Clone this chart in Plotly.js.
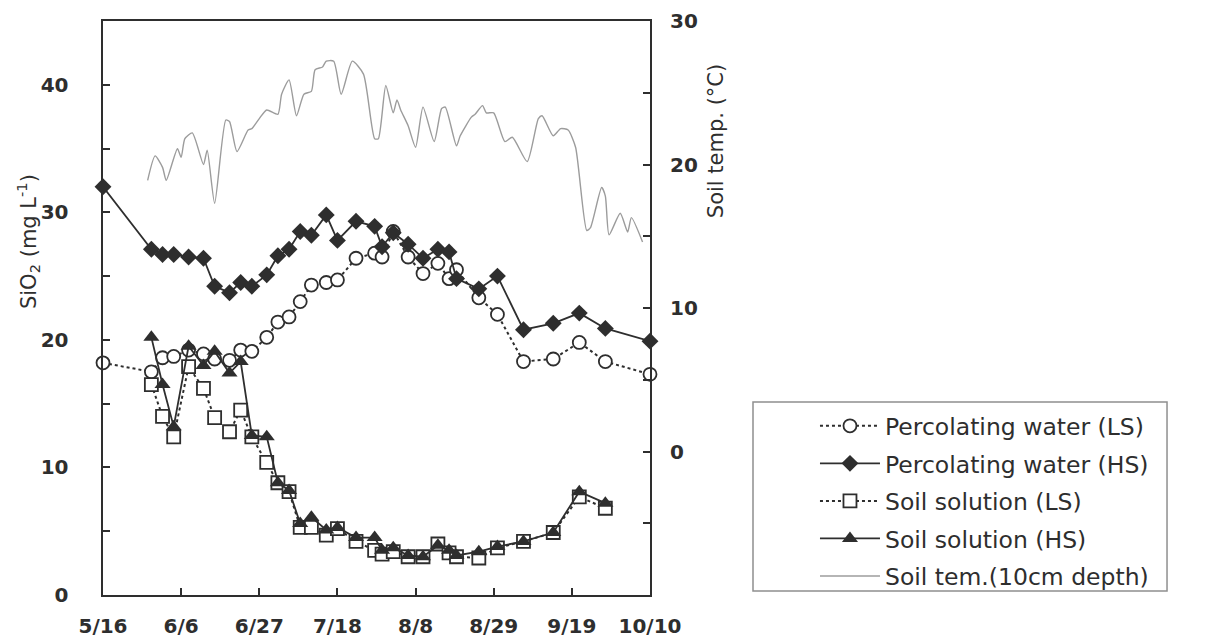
<!DOCTYPE html>
<html>
<head>
<meta charset="utf-8">
<script src="https://cdn.plot.ly/plotly-3.0.1.min.js"></script>
<style>
  html, body { margin: 0; padding: 0; background: #fff; }
  #chart { width: 1210px; height: 642px; }
</style>
</head>
<body>
<div id="chart"></div>
<script>
// Season of sampling (month-day); the year only anchors the date axis.
const YEAR = '2002';

// Sampling dates for percolating water
const sampleDates = ['05-16','05-29','06-01','06-04','06-08','06-12','06-15','06-19','06-22','06-25',
  '06-29','07-02','07-05','07-08','07-11','07-15','07-18','07-23','07-28','07-30',
  '08-02','08-06','08-10','08-14','08-17','08-19','08-25','08-30','09-06','09-14',
  '09-21','09-28','10-10'];

// SiO2 (mg L-1) in percolating water
const percolatingLS = [18.2, 17.5, 18.6, 18.7, 19.2, 18.9, 18.5, 18.4, 19.2, 19.1,
  20.2, 21.4, 21.8, 23.0, 24.3, 24.5, 24.7, 26.4, 26.8, 26.5,
  28.5, 26.5, 25.2, 26.0, 24.8, 25.5, 23.3, 22.0, 18.3, 18.5,
  19.8, 18.3, 17.3];
const percolatingHS = [32.0, 27.1, 26.7, 26.7, 26.5, 26.4, 24.2, 23.7, 24.5, 24.2,
  25.1, 26.6, 27.1, 28.5, 28.2, 29.8, 27.8, 29.3, 28.9, 27.3,
  28.4, 27.5, 26.4, 27.1, 26.9, 24.8, 24.0, 25.0, 20.8, 21.3,
  22.1, 20.9, 19.9];

// Soil solution was sampled on the same days, except the first and last
const soilDates = ['05-29','06-01','06-04','06-08','06-12','06-15','06-19','06-22','06-25',
  '06-29','07-02','07-05','07-08','07-11','07-15','07-18','07-23','07-28','07-30',
  '08-02','08-06','08-10','08-14','08-17','08-19','08-25','08-30','09-06','09-14',
  '09-21','09-28'];
const soilLS = [16.5, 14.0, 12.4, 17.9, 16.2, 13.9, 12.8, 14.5, 12.4,
  10.4, 8.8, 8.1, 5.3, 5.3, 4.7, 5.2, 4.2, 3.5, 3.2,
  3.4, 3.0, 3.0, 4.0, 3.3, 3.0, 2.9, 3.7, 4.2, 4.9,
  7.7, 6.8];
const soilHS = [20.2, 16.5, 13.2, 19.5, 18.0, 19.1, 17.4, 18.3, 12.5,
  12.4, 8.8, 8.2, 5.6, 6.1, 5.1, 5.3, 4.5, 4.5, 3.5,
  3.7, 3.1, 3.0, 3.9, 3.5, 3.1, 3.4, 3.8, 4.2, 4.9,
  8.1, 7.2];

// Soil temperature at 10 cm depth (degC)
const tempDates = ['05-28','05-30','06-01','06-02','06-05','06-06','06-07','06-09','06-12','06-13',
  '06-15','06-18','06-19','06-21','06-24','06-25','06-27','06-29','07-02','07-03',
  '07-05','07-07','07-09','07-11','07-12','07-14','07-15','07-17','07-19','07-22',
  '07-25','07-28','07-29','07-31','08-02','08-03','08-04','08-06','08-08','08-10',
  '08-13','08-15','08-16','08-19','08-20','08-23','08-24','08-26','08-27','08-29',
  '09-01','09-03','09-07','09-10','09-11','09-14','09-16','09-18','09-20','09-23',
  '09-24','09-27','09-28','09-29','10-02','10-04','10-05','10-08'];
const soilTemp = [18.9, 20.6, 19.8, 18.9, 21.1, 20.5, 21.8, 22.2, 20.0, 21.0,
  17.3, 23.1, 23.0, 20.9, 22.4, 22.5, 23.2, 23.8, 23.5, 24.9,
  25.9, 23.4, 24.9, 25.1, 26.6, 26.8, 27.2, 27.2, 24.9, 27.2,
  26.3, 21.8, 21.8, 25.5, 23.6, 24.5, 23.8, 22.7, 21.2, 24.0,
  21.6, 23.9, 24.0, 21.3, 22.0, 23.3, 23.5, 24.1, 23.6, 23.6,
  21.6, 21.9, 20.2, 23.2, 23.4, 22.0, 22.5, 22.4, 21.2, 15.4,
  15.6, 18.4, 17.8, 15.1, 16.6, 15.3, 16.3, 14.6];

// Axis ticks
const tickDates = ['05-16','06-06','06-27','07-18','08-08','08-29','09-19','10-10'];
const tickLabels = ['5/16','6/6','6/27','7/18','8/8','8/29','9/19','10/10'];
const tempTicks = [0, 10, 20, 30];

const seriesNames = ['Percolating water (LS)', 'Percolating water (HS)',
  'Soil solution (LS)', 'Soil solution (HS)', 'Soil tem.(10cm depth)'];

const full = md => md.map(d => YEAR + '-' + d);
const INK = '#2e2e2e';
const FONT = '"DejaVu Sans", "Liberation Sans", sans-serif';
const tickFont = { family: FONT, size: 20, color: INK, weight: 'bold' };

const traces = [
  {
    x: full(tempDates), y: soilTemp, yaxis: 'y2', name: seriesNames[4],
    type: 'scatter', mode: 'lines',
    line: { color: '#9c9c9c', width: 1.4, shape: 'spline', smoothing: 0.6 },
    legendrank: 5, legendgroup: 'g5'
  },
  {
    x: full(sampleDates), y: percolatingLS, name: seriesNames[0],
    type: 'scatter', mode: 'lines+markers', cliponaxis: false,
    line: { color: INK, width: 2, dash: 'dot' },
    marker: { symbol: 'circle', size: 13, color: '#fff', line: { color: INK, width: 1.8 } },
    legendrank: 1, legendgroup: 'g1'
  },
  {
    x: full(sampleDates), y: percolatingHS, name: seriesNames[1],
    type: 'scatter', mode: 'lines+markers', cliponaxis: false,
    line: { color: INK, width: 1.8 },
    marker: { symbol: 'diamond', size: 13, color: INK, line: { color: INK, width: 0 } },
    legendrank: 2, legendgroup: 'g2'
  },
  {
    x: full(soilDates), y: soilLS, name: seriesNames[2],
    type: 'scatter', mode: 'lines+markers', cliponaxis: false,
    line: { color: INK, width: 2, dash: 'dot' },
    marker: { symbol: 'square', size: 13, color: '#fff', line: { color: INK, width: 1.8 } },
    legendrank: 3, legendgroup: 'g3'
  },
  {
    x: full(soilDates), y: soilHS, name: seriesNames[3],
    type: 'scatter', mode: 'lines+markers', cliponaxis: false,
    line: { color: INK, width: 1.8 },
    marker: { symbol: 'triangle-up', size: 14, color: INK, line: { color: INK, width: 0 } },
    legendrank: 4, legendgroup: 'g4'
  }
];

const layout = {
  width: 1210, height: 642,
  margin: { l: 103, r: 560, t: 21, b: 47 },
  paper_bgcolor: '#fff', plot_bgcolor: '#fff',
  font: { family: FONT, color: INK, size: 19 },
  showlegend: true,
  legend: {
    x: 1.3016, xanchor: 'left', y: 0.3327, yanchor: 'top',
    borderwidth: 0, bgcolor: 'rgba(0,0,0,0)',
    font: { family: FONT, size: 23.5, color: INK },
    traceorder: 'grouped', tracegroupgap: 4, itemwidth: 60
  },
  xaxis: {
    type: 'date',
    range: [YEAR + '-05-16', YEAR + '-10-10'],
    tickmode: 'array', tickvals: full(tickDates), ticktext: tickLabels,
    ticks: 'inside', ticklen: 7, tickwidth: 2, tickcolor: INK,
    showline: true, linecolor: INK, linewidth: 2, mirror: true,
    showgrid: false, zeroline: false,
    tickfont: tickFont,
    ticklabelstandoff: 12
  },
  yaxis: {
    range: [0, 45], dtick: 10, tick0: 0,
    ticks: 'inside', ticklen: 7, tickwidth: 2, tickcolor: INK,
    minor: { dtick: 5, ticks: 'inside', ticklen: 7, tickwidth: 2, tickcolor: INK },
    showline: true, linecolor: INK, linewidth: 2.5,
    showgrid: false, zeroline: false,
    tickfont: tickFont,
    ticklabelstandoff: 28
  },
  yaxis2: {
    overlaying: 'y', side: 'right',
    range: [-10, 30], tickmode: 'array', tickvals: tempTicks,
    ticks: 'inside', ticklen: 7, tickwidth: 2, tickcolor: INK,
    minor: { dtick: 5, tick0: 0, ticks: 'inside', ticklen: 7, tickwidth: 2, tickcolor: INK },
    showline: true, linecolor: INK, linewidth: 2,
    showgrid: false, zeroline: false,
    tickfont: tickFont,
    ticklabelstandoff: 14
  },
  shapes: [
    {
      type: 'rect', xref: 'paper', yref: 'paper',
      x0: 1.1883, x1: 1.9452, y0: 0.007, y1: 0.3362,
      line: { color: '#8f8f8f', width: 1.5 }, fillcolor: 'rgba(0,0,0,0)'
    }
  ],
  annotations: [
    {
      text: 'SiO<sub>2</sub> (mg L<sup>-1</sup>)',
      xref: 'paper', yref: 'paper', x: -0.137, y: 0.615,
      xanchor: 'center', yanchor: 'middle', textangle: -90, showarrow: false,
      font: { family: FONT, size: 21, color: INK }
    },
    {
      text: 'Soil temp. (\u00B0C)',
      xref: 'paper', yref: 'paper', x: 1.121, y: 0.791,
      xanchor: 'center', yanchor: 'middle', textangle: -90, showarrow: false,
      font: { family: FONT, size: 21, color: INK }
    }
  ]
};

Plotly.newPlot('chart', traces, layout, { displayModeBar: false, staticPlot: true });
</script>
</body>
</html>
